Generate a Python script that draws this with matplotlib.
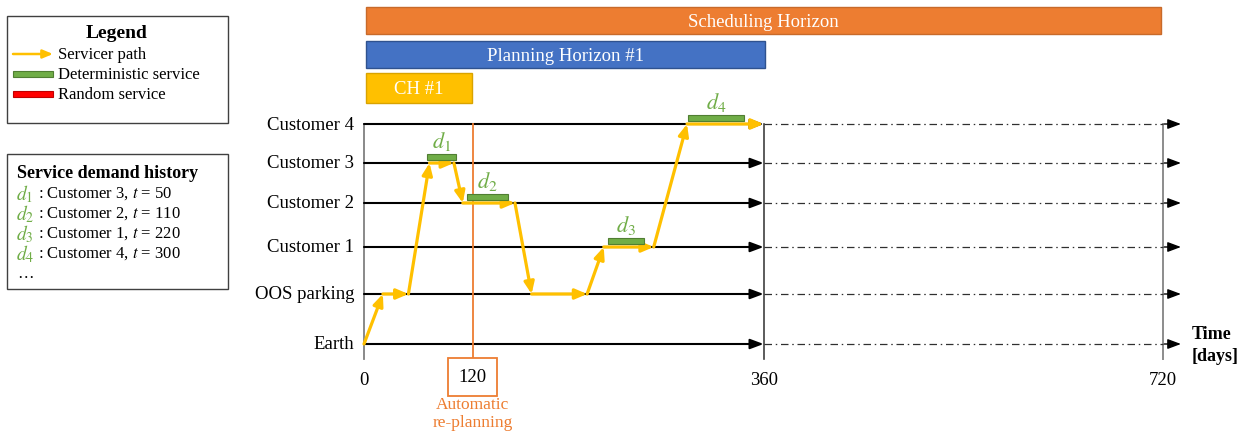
import matplotlib
matplotlib.use("Agg")
import matplotlib.pyplot as plt
from matplotlib.patches import Rectangle

plt.rcParams['font.family'] = ['Liberation Serif', 'DejaVu Serif']
plt.rcParams['mathtext.fontset'] = 'stix'

# ---------------- data ----------------
levels = ["Earth", "OOS parking", "Customer 1", "Customer 2", "Customer 3", "Customer 4"]

# servicer path (time in days, level index) (schematic)
path_t = [0, 17, 40, 59, 81, 89, 136, 151, 201, 216, 261, 291, 360]
path_lvl = [0, 1, 1, 4, 4, 3, 3, 1, 1, 2, 2, 5, 5]

# deterministic services (bars drawn on the diagram)
service_names = ["d_1", "d_2", "d_3", "d_4"]
service_start = [57, 93, 220, 292]
service_end = [83, 130, 252, 342]
service_lvl = [4, 3, 2, 5]

# horizons at the top
horizon_names = ["Scheduling Horizon", "Planning Horizon #1", "CH #1"]
horizon_start = [1.5, 1.5, 1.5]
horizon_end = [718, 361, 97]

# demand history listing
demand_labels = ["d_1", "d_2", "d_3", "d_4"]
demand_customers = ["Customer 3", "Customer 2", "Customer 1", "Customer 4"]
demand_times = [50, 110, 220, 300]

# time axis
tick_pos = [0, 360, 720]
tick_labels = ["0", "360", "720"]
replan_pos = 98
replan_label = "120"
plan_end = 360
sched_end = 720
axis_end = 736

# ---------------- layout / style ----------------
W, H = 1249, 435
PX_PER_DAY = 1.11
X0 = 364
LEVEL_Y = [345, 295, 248, 204, 164, 125]
HOR_Y = [(8, 35), (42, 69), (74, 104)]
HOR_COL = ["#ED7D31", "#4472C4", "#FFC000"]
HOR_EDGE = ["#C86A2A", "#2F528F", "#D9A300"]
GOLD = "#FFC000"
GREEN = "#70AD47"
GREEN_TXT = "#70AD47"
ORANGE = "#ED7D31"

fig = plt.figure(figsize=(W / 100, H / 100), dpi=100)
ax = fig.add_axes([0, 0, 1, 1])
ax.set_xlim(-X0 / PX_PER_DAY, (W - X0) / PX_PER_DAY)
ax.set_ylim(H, 0)
ax.axis("off")

pax = fig.add_axes([0, 0, 1, 1])
pax.set_xlim(0, W)
pax.set_ylim(H, 0)
pax.axis("off")
pax.patch.set_alpha(0)

# horizon bars
for name, s, e, (y0, y1), fc, ec in zip(horizon_names, horizon_start, horizon_end, HOR_Y, HOR_COL, HOR_EDGE):
    ax.barh((y0 + y1) / 2, e - s, left=s, height=(y1 - y0), color=fc, edgecolor=ec, linewidth=1.0, zorder=2)
    ax.text((s + e) / 2, (y0 + y1) / 2 + 1, name, color="white", fontsize=13.5, ha="center", va="center", zorder=3)

# vertical reference lines
top_y, bot_y = LEVEL_Y[-1], 360
ax.plot([0, 0], [top_y, bot_y], color="#808080", lw=1.3, zorder=1)
ax.plot([plan_end, plan_end], [top_y, bot_y], color="#404040", lw=1.2, zorder=1)
ax.plot([sched_end, sched_end], [top_y, bot_y], color="#8C8C8C", lw=1.4, zorder=1)

# level lines
for lvl_name, y in zip(levels, LEVEL_Y):
    ax.annotate("", xy=(plan_end, y), xytext=(0, y),
                arrowprops=dict(arrowstyle="-|>,head_length=0.8,head_width=0.3", color="black", lw=1.5,
                                shrinkA=0, shrinkB=0), zorder=2)
    ax.plot([plan_end, sched_end], [y, y], color="#303030", lw=0.9, linestyle=(0, (6, 3, 1.2, 3)), zorder=1)
    ax.annotate("", xy=(axis_end, y), xytext=(sched_end + 1, y),
                arrowprops=dict(arrowstyle="-|>,head_length=0.8,head_width=0.3", color="black", lw=1.0,
                                shrinkA=0, shrinkB=0), zorder=2)
    ax.text(-9, y, lvl_name, fontsize=13.5, ha="right", va="center")

# replanning line
ax.plot([replan_pos, replan_pos], [top_y, 361], color=ORANGE, lw=1.3, zorder=3)
ax.text(replan_pos, 378, replan_label, fontsize=13.5, ha="center", va="center",
        bbox=dict(boxstyle="square,pad=0.55", fc="white", ec=ORANGE, lw=1.3), zorder=4)
ax.text(replan_pos, 405, "Automatic", color=ORANGE, fontsize=12.5, ha="center", va="center")
ax.text(replan_pos, 423, "re-planning", color=ORANGE, fontsize=12.5, ha="center", va="center")

# tick labels
for p, lab in zip(tick_pos, tick_labels):
    ax.text(p, 381, lab, fontsize=13.5, ha="center", va="center")

ax.text(axis_end + 10, 335, "Time", fontsize=13, fontweight="bold", ha="left", va="center")
ax.text(axis_end + 10, 357, "[days]", fontsize=13, fontweight="bold", ha="left", va="center")

# servicer path
for i in range(len(path_t) - 1):
    ax.annotate("", xy=(path_t[i + 1], LEVEL_Y[path_lvl[i + 1]]), xytext=(path_t[i], LEVEL_Y[path_lvl[i]]),
                arrowprops=dict(arrowstyle="-|>,head_length=0.7,head_width=0.3", color=GOLD, lw=2.3,
                                shrinkA=0, shrinkB=0), zorder=5)

# deterministic services
for name, s, e, lv in zip(service_names, service_start, service_end, service_lvl):
    y = LEVEL_Y[lv]
    ax.barh(y - 6.5, e - s, left=s, height=6, color=GREEN, edgecolor="#507E32", linewidth=0.8, zorder=6)
    ax.text((s + e) / 2, y - 22, "$" + name + "$", color=GREEN_TXT, fontsize=16, ha="center", va="center", zorder=6)

# ---- legend box ----
pax.add_patch(Rectangle((7, 17), 221, 107, fill=False, ec="#404040", lw=1.0))
pax.text(117, 34, "Legend", fontsize=14, fontweight="bold", ha="center", va="center")
pax.annotate("", xy=(53, 55), xytext=(13, 55),
             arrowprops=dict(arrowstyle="-|>,head_length=0.6,head_width=0.25", color=GOLD, lw=1.8,
                             shrinkA=0, shrinkB=0))
pax.text(58, 55, "Servicer path", fontsize=12, ha="left", va="center")
pax.add_patch(Rectangle((13, 72), 40, 6, fc=GREEN, ec="#507E32", lw=0.8))
pax.text(58, 75, "Deterministic service", fontsize=12, ha="left", va="center")
pax.add_patch(Rectangle((13, 92), 40, 6, fc="#FF0000", ec="#C00000", lw=0.8))
pax.text(58, 95, "Random service", fontsize=12, ha="left", va="center")

# ---- demand history box ----
pax.add_patch(Rectangle((7, 155), 221, 135, fill=False, ec="#404040", lw=1.0))
pax.text(17, 174, "Service demand history", fontsize=13, fontweight="bold", ha="left", va="center")
for i, (lab, cust, t) in enumerate(zip(demand_labels, demand_customers, demand_times)):
    y = 194 + i * 20
    pax.text(16, y, "$" + lab + "$", color=GREEN_TXT, fontsize=14, ha="left", va="center")
    pax.text(38, y, ": " + cust + ", $t$ = " + str(t), fontsize=12, ha="left", va="center")
pax.text(17, 274, "\u2026", fontsize=12, ha="left", va="center")

fig.savefig("out.png", dpi=100)
